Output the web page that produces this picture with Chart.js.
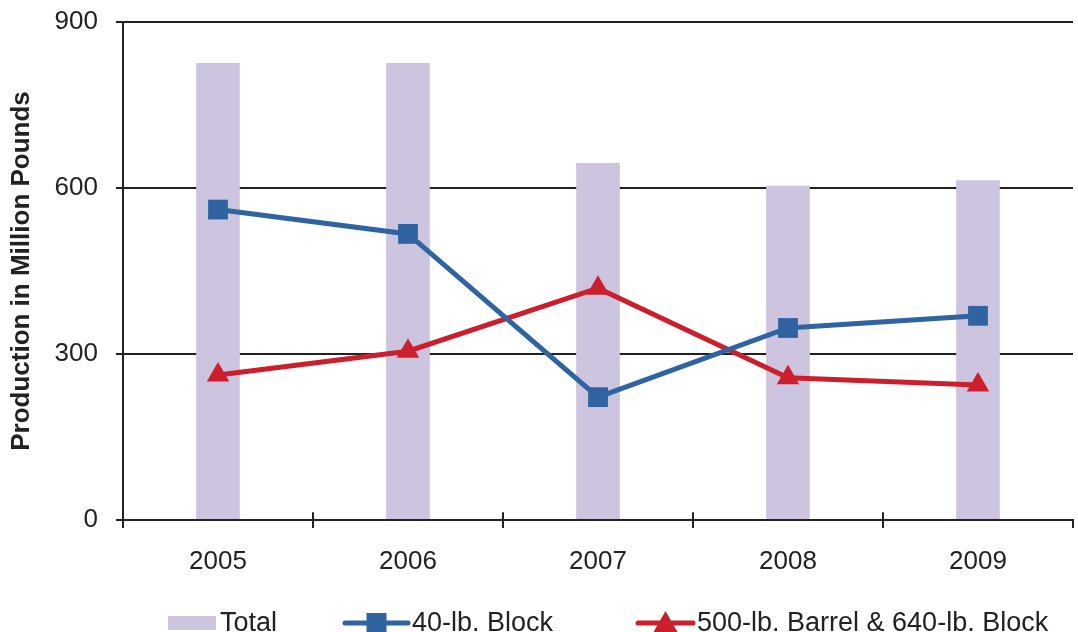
<!DOCTYPE html>
<html>
<head>
<meta charset="utf-8">
<script src="https://cdn.jsdelivr.net/npm/chart.js@4/dist/chart.umd.min.js"></script>
<style>
  html, body { margin: 0; padding: 0; background: #fff; }
  #wrap { width: 1078px; height: 632px; position: relative; }
</style>
</head>
<body>
<div id="wrap"><canvas id="chartCanvas" width="1078" height="632"></canvas></div>
<script>
const years = ['2005', '2006', '2007', '2008', '2009'];
const totalVals = [826, 826, 645, 604, 614];
const blockVals = [561, 517, 222, 347, 369];
const barrelVals = [262, 305, 419, 257, 244];
const yTicks = [0, 300, 600, 900];

const FONT = "'Liberation Sans', Arial, sans-serif";
const BAR_COLOR = '#cdc4e0';
const BLUE = '#2f64a0';
const RED = '#cc1f2d';

// legend drawn by hand so line series show line + marker like the original
const bottomLegend = {
  id: 'bottomLegend',
  afterDraw(chart) {
    const ctx = chart.ctx;
    const y = 623;
    const starts = [168, 345, 638];
    const widths = [48, 63, 55];
    ctx.save();
    ctx.font = '27px ' + FONT;
    ctx.textBaseline = 'middle';
    chart.data.datasets.forEach((ds, i) => {
      const x = starts[i];
      const w = widths[i];
      if (ds.type === 'bar') {
        ctx.fillStyle = ds.backgroundColor;
        ctx.fillRect(x, y - 7, w, 14);
      } else {
        ctx.strokeStyle = ds.borderColor;
        ctx.lineWidth = 5;
        ctx.lineCap = 'round';
        ctx.beginPath();
        ctx.moveTo(x, y);
        ctx.lineTo(x + w, y);
        ctx.stroke();
        ctx.fillStyle = ds.borderColor;
        const cx = x + w / 2;
        if (ds.pointStyle === 'rect') {
          ctx.fillRect(cx - 10, y - 10, 20, 20);
        } else {
          ctx.beginPath();
          ctx.moveTo(cx, y - 12);
          ctx.lineTo(cx + 12, y + 9);
          ctx.lineTo(cx - 12, y + 9);
          ctx.closePath();
          ctx.fill();
        }
      }
      ctx.fillStyle = '#222';
      ctx.textAlign = 'left';
      ctx.fillText(ds.label, x + w + 4, y + 1);
    });
    // small upward part of the x-axis tick marks
    const xs = chart.scales.x;
    ctx.strokeStyle = '#222';
    ctx.lineWidth = 2;
    for (let i = 1; i < years.length; i++) {
      const px = Math.round((xs.getPixelForTick(i - 1) + xs.getPixelForTick(i)) / 2);
      ctx.beginPath();
      ctx.moveTo(px, chart.chartArea.bottom);
      ctx.lineTo(px, chart.chartArea.bottom - 7);
      ctx.stroke();
    }
    ctx.restore();
  }
};

new Chart(document.getElementById('chartCanvas'), {
  data: {
    labels: years,
    datasets: [
      {
        type: 'bar',
        label: 'Total',
        data: totalVals,
        backgroundColor: BAR_COLOR,
        borderWidth: 0,
        barPercentage: 0.23,
        categoryPercentage: 1,
        order: 3
      },
      {
        type: 'line',
        label: '40-lb. Block',
        data: blockVals,
        borderColor: BLUE,
        backgroundColor: BLUE,
        borderWidth: 5,
        pointStyle: 'rect',
        pointRadius: 14,
        pointBorderWidth: 0,
        tension: 0,
        order: 1
      },
      {
        type: 'line',
        label: '500-lb. Barrel & 640-lb. Block',
        data: barrelVals,
        borderColor: RED,
        backgroundColor: RED,
        borderWidth: 5,
        pointStyle: 'triangle',
        pointRadius: 13,
        pointBorderWidth: 0,
        tension: 0,
        order: 2
      }
    ]
  },
  options: {
    responsive: false,
    animation: false,
    devicePixelRatio: 1,
    layout: { autoPadding: false, padding: { top: 22, right: 5, left: 0, bottom: 0 } },
    plugins: {
      legend: { display: false },
      tooltip: { enabled: false }
    },
    scales: {
      x: {
        offset: true,
        grid: {
          offset: true,
          drawOnChartArea: false,
          color: '#222',
          lineWidth: 2,
          tickLength: 8
        },
        border: { display: true, color: '#222', width: 2 },
        ticks: { color: '#222', font: { family: FONT, size: 26 }, padding: 18 },
        afterFit(scale) {
          scale.height = 112;
          scale.paddingLeft = 0;
          scale.paddingRight = 0;
        }
      },
      y: {
        min: 0,
        max: 900,
        afterBuildTicks(scale) { scale.ticks = yTicks.map(v => ({ value: v })); },
        grid: {
          color: '#222',
          lineWidth: 2,
          tickLength: 7
        },
        border: { display: true, color: '#222', width: 2 },
        ticks: { color: '#222', font: { family: FONT, size: 26 }, padding: 18 },
        title: {
          display: true,
          text: 'Production in Million Pounds',
          color: '#222',
          font: { family: FONT, size: 26, weight: 'bold' },
          padding: { top: 6, bottom: 2 }
        },
        afterFit(scale) {
          scale.width = 123;
          scale.paddingTop = 0;
          scale.paddingBottom = 0;
        }
      }
    }
  },
  plugins: [bottomLegend]
});
</script>
</body>
</html>
